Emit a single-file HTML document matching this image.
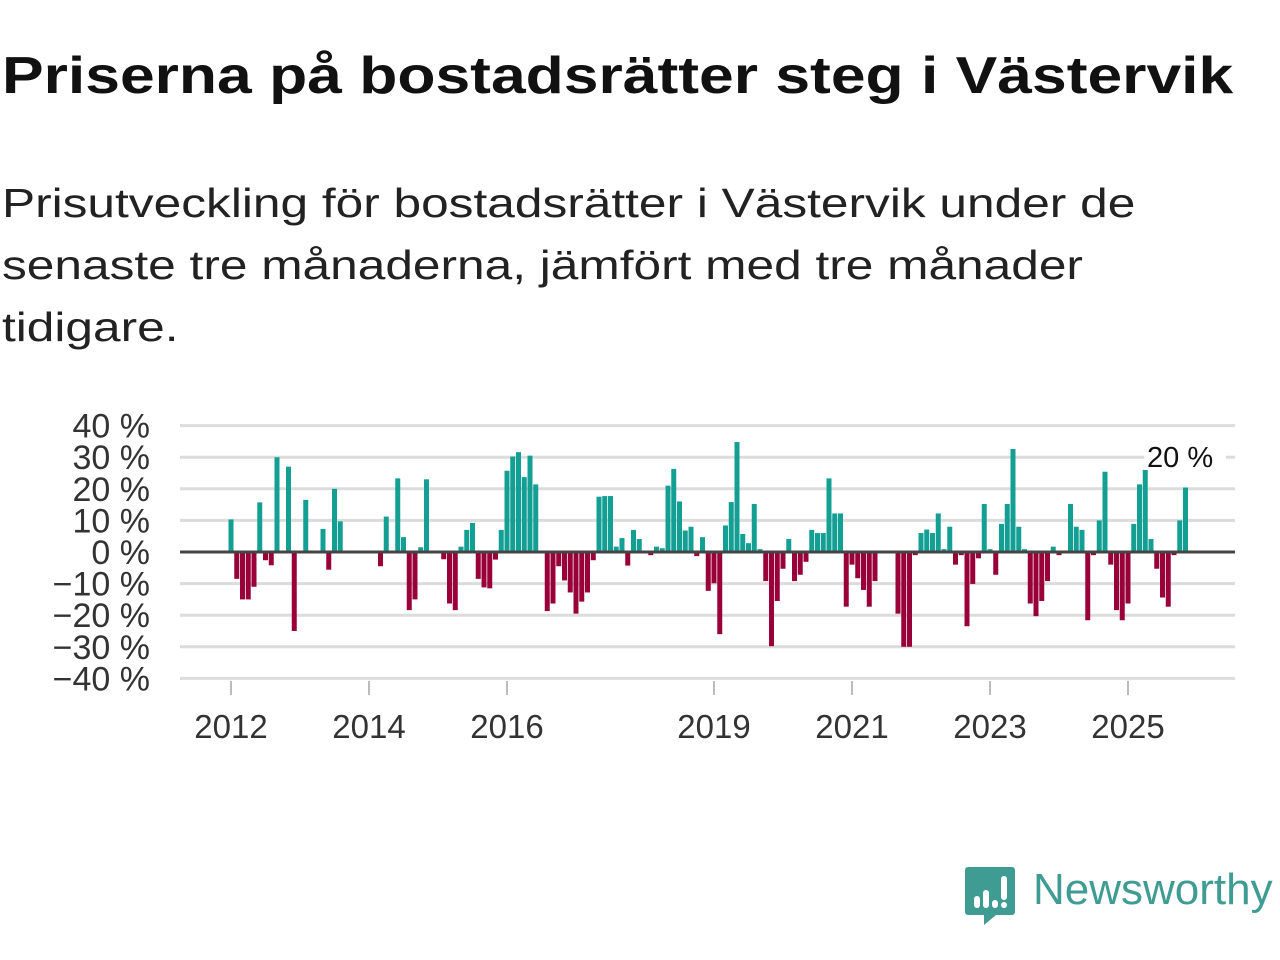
<!DOCTYPE html>
<html><head><meta charset="utf-8">
<style>
body{margin:0;width:1280px;height:960px;background:#fff;overflow:hidden;font-family:"Liberation Sans","DejaVu Sans",sans-serif;position:relative}
#title{position:absolute;left:2px;top:46px;font-size:52px;font-weight:bold;color:#111;margin:0;white-space:nowrap;transform:scaleX(1.2);transform-origin:0 0}
#subtitle{position:absolute;left:2px;top:172px;font-size:41px;line-height:62px;color:#222;margin:0;white-space:nowrap;transform:scaleX(1.21);transform-origin:0 0}
svg{position:absolute;left:0;top:0}
</style></head><body>
<h1 id="title">Priserna på bostadsrätter steg i Västervik</h1>
<p id="subtitle">Prisutveckling för bostadsrätter i Västervik under de<br>senaste tre månaderna, jämfört med tre månader<br>tidigare.</p>
<svg id="chart" width="1280" height="960"></svg>
<script>
const values = [10.3,-8.5,-15,-15,-11,15.7,-2.6,-4.2,30,0,27,-25,0,16.5,0,0,7.3,-5.6,20,9.7,0,0,0,0,0,0,-4.5,11.2,0,23.3,4.7,-18.4,-15,1.5,23,0,0,-2.3,-16.3,-18.4,1.7,7,9.2,-8.5,-11.2,-11.5,-2.4,7,25.7,30.2,31.6,23.7,30.5,21.4,0,-18.7,-16.3,-4.5,-9,-12.8,-19.5,-15.7,-12.8,-2.6,17.5,17.7,17.7,1.7,4.4,-4.3,7,4.1,0,-1,1.7,1.2,21,26.3,16,6.8,8,-1.3,4.7,-12.3,-9.9,-26,8.4,15.8,34.8,5.7,2.8,15.2,0.9,-9.2,-29.8,-15.5,-5.3,4.1,-9.2,-7.2,-3.1,7,6,6,23.3,12.2,12.2,-17.3,-4,-8.3,-12,-17.3,-9.2,0,0,0,-19.5,-30,-30,-1,6,7.1,6,12.2,0.9,8,-4,-1,-23.5,-10.1,-2,15.2,0.9,-7.2,8.9,15.2,32.6,8,0.9,-16.3,-20.3,-15.5,-9.2,1.7,-1,0,15.2,8,7,-21.6,-1,10,25.4,-4,-18.4,-21.6,-16.3,8.9,21.4,26,4.1,-5.3,-14.4,-17.3,-1,10,20.4];
const startYear = 2012;
const yTicks = [40,30,20,10,0,-10,-20,-30,-40];
const xTickYears = [2012,2014,2016,2019,2021,2023,2025];
const lastLabel = "20 %";

const svg = document.getElementById('chart');
const NS = 'http://www.w3.org/2000/svg';
const x0 = 231, pxMonth = 5.75, yZero = 552, pxPct = 3.16;
function xScale(i){ return x0 + i*pxMonth; }
function yScale(v){ return yZero - v*pxPct; }
function mk(tag, attrs){ const e=document.createElementNS(NS,tag); for(const k in attrs) e.setAttribute(k,attrs[k]); svg.appendChild(e); return e; }

yTicks.forEach(t=>{
  if(t!==0){
    const g = mk('line',{x1:180,x2:1235,y1:yScale(t),y2:yScale(t),stroke:'#dcdcdc','stroke-width':3});
    
    
  }
  const lab = mk('text',{x:150,y:yScale(t)+12,'text-anchor':'end','font-size':34,fill:'#333','font-family':'Liberation Sans, sans-serif'});
  lab.textContent = (t<0?'\u2212'+(-t):t)+' %';
  
  
});

xTickYears.forEach(yr=>{
  const x = xScale((yr-startYear)*12);
  const tk = mk('line',{x1:x,x2:x,y1:681,y2:695,stroke:'#bbb','stroke-width':2});
  
  
  const lab = mk('text',{x:x,y:738,'text-anchor':'middle','font-size':33,fill:'#333','font-family':'Liberation Sans, sans-serif'});
  lab.textContent = yr;
  
  
});

values.forEach((v,i)=>{
  if(v===0) return;
  const x = xScale(i)-2.5;
  const y = v>0 ? yScale(v) : yZero;
  const r = mk('rect',{x:x,y:y,width:5,height:Math.abs(v)*pxPct,fill:v>0?'#139f94':'#990037'});
  
  
});

const zl = mk('line',{x1:180,x2:1235,y1:yZero,y2:yZero,stroke:'#444','stroke-width':3});



const bg = mk('rect',{x:1144,y:438,width:82,height:32,fill:'#fff'});


const ll = mk('text',{x:1147,y:467,'font-size':29,fill:'#111','font-family':'Liberation Sans, sans-serif'});
ll.textContent = lastLabel;


</script>
<svg width="320" height="80" style="left:962px;top:862px">
  <path d="M6 5 h44 a3 3 0 0 1 3 3 v42 a3 3 0 0 1 -3 3 h-16 l-12 10 v-10 h-16 a3 3 0 0 1 -3 -3 v-42 a3 3 0 0 1 3 -3z" fill="#3f9c93"/>
  <rect x="12" y="34" width="6" height="12" rx="3" fill="#fff"/>
  <rect x="21" y="28" width="6" height="18" rx="3" fill="#fff"/>
  <rect x="30" y="38" width="6" height="8" rx="3" fill="#fff"/>
  <rect x="39" y="14" width="6" height="24" rx="3" fill="#fff"/>
  <circle cx="42" cy="43" r="3" fill="#fff"/>
  <text x="71" y="42" font-size="44" fill="#3f9c93" font-family="Liberation Sans, sans-serif">Newsworthy</text>
</svg>
</body></html>
